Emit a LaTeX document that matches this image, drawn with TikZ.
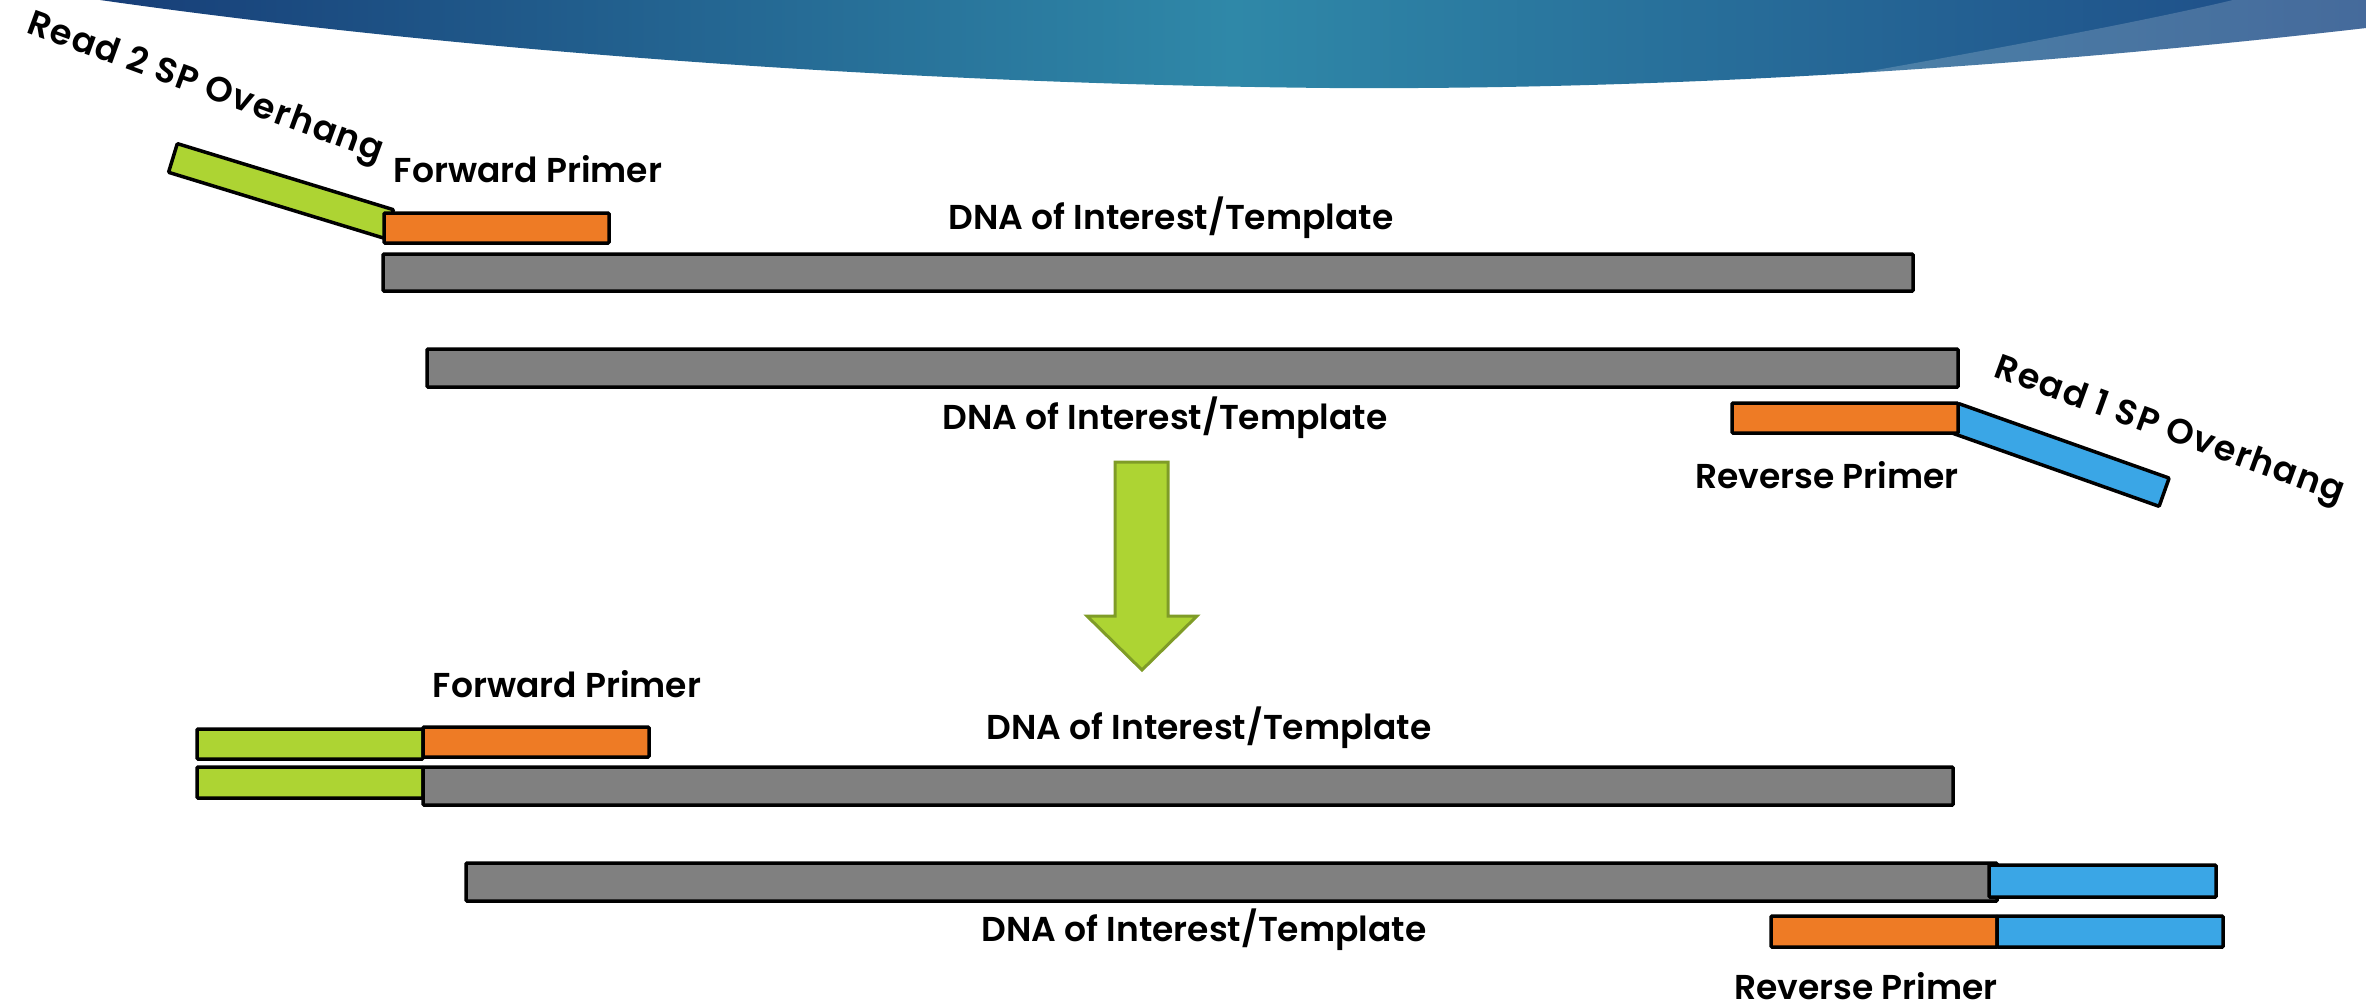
\documentclass[tikz,border=0pt]{standalone}
\usepackage{fontspec}
\setmainfont{Poppins}[BoldFont={Poppins SemiBold}]
\definecolor{lgreen}{HTML}{ADD433}
\definecolor{dgreen}{HTML}{7F9C27}
\definecolor{orng}{HTML}{EE7B25}
\definecolor{lblue}{HTML}{3AA6E6}
\definecolor{dnagray}{HTML}{808080}
\definecolor{bnavy}{HTML}{173E78}
\definecolor{bteal}{HTML}{2F88A8}
\definecolor{bright}{HTML}{1D4A86}
\begin{document}
\begin{tikzpicture}[x=1pt,y=-1pt,
  strand/.style={draw=black, line width=3.5pt, rounded corners=1pt, inner sep=0pt, outer sep=0pt, anchor=north west},
  slant/.style={strand, anchor=center},
  lbl/.style={font=\fontsize{34.5}{40}\selectfont\bfseries, inner sep=0pt, anchor=base},
  rlbl/.style={font=\fontsize{35}{40}\selectfont\bfseries\addfontfeature{LetterSpace=4}, inner sep=0pt, anchor=center, rotate=-20}]
\useasboundingbox (0,0) rectangle (2366,1007);
% banner
\shade[left color=bnavy, right color=bright, middle color=bteal]
  (100,0) -- (2366,0) -- (2366,28)
  .. controls (2000,70) and (1650,90) .. (1330,88)
  .. controls (900,84) and (450,50) .. (100,0) -- cycle;
\fill[white, opacity=0.18]
  (2233,0) -- (2366,0) -- (2366,28) .. controls (2100,58) and (1950,72) .. (1848,75)
  .. controls (1990,50) and (2150,20) .. (2233,0) -- cycle;
% top section
\node[slant, fill=lgreen, rotate=-17, minimum width=226pt, minimum height=30pt] (ov2) at (281,191) {};
\node[strand, fill=orng, minimum width=225pt, minimum height=30pt] (fp1) at (384,213) {};
\node[strand, fill=dnagray, minimum width=1530pt, minimum height=37pt] (t1) at (383,254) {};
\node[strand, fill=dnagray, minimum width=1531pt, minimum height=38pt] (t2) at (427,349) {};
\node[slant, fill=lblue, rotate=-19.5, minimum width=223pt, minimum height=30pt] (ov1) at (2059,455) {};
\node[strand, fill=orng, minimum width=226pt, minimum height=30pt] (rp1) at (1732,403) {};
\node[rlbl] (l1) at (205,89) {Read 2 SP Overhang};
\node[lbl] (l2) at (528,182) {Forward Primer};
\node[lbl] (l3) at (1171,229) {DNA of Interest/Template};
\node[lbl] (l4) at (1165,429) {DNA of Interest/Template};
\node[lbl] (l5) at (1827,488) {Reverse Primer};
\node[rlbl] (l6) at (2169,432) {Read 1 SP Overhang};
% arrow
\draw[fill=lgreen, draw=dgreen, line width=3pt]
  (1115,462) -- (1168,462) -- (1168,616) -- (1197,616) -- (1142,670) -- (1087,616) -- (1115,616) -- cycle;
% bottom section
\node[strand, fill=lgreen, minimum width=226pt, minimum height=30pt] (g1) at (197,729) {};
\node[strand, fill=orng, minimum width=226pt, minimum height=30pt] (fp2) at (423,727) {};
\node[strand, fill=lgreen, minimum width=226pt, minimum height=31pt] (g2) at (197,767) {};
\node[strand, fill=dnagray, minimum width=1530pt, minimum height=38pt] (t3) at (423,767) {};
\node[strand, fill=dnagray, minimum width=1531pt, minimum height=38pt] (t4) at (466,863) {};
\node[strand, fill=lblue, minimum width=227pt, minimum height=32pt] (b1) at (1989,865) {};
\node[strand, fill=orng, minimum width=226pt, minimum height=31pt] (rp2) at (1771,916) {};
\node[strand, fill=lblue, minimum width=226pt, minimum height=31pt] (b2) at (1997,916) {};
\node[lbl] (l7) at (567,697) {Forward Primer};
\node[lbl] (l8) at (1209,739) {DNA of Interest/Template};
\node[lbl] (l9) at (1204,941) {DNA of Interest/Template};
\node[lbl] (l10) at (1866,999) {Reverse Primer};
\end{tikzpicture}
\end{document}
